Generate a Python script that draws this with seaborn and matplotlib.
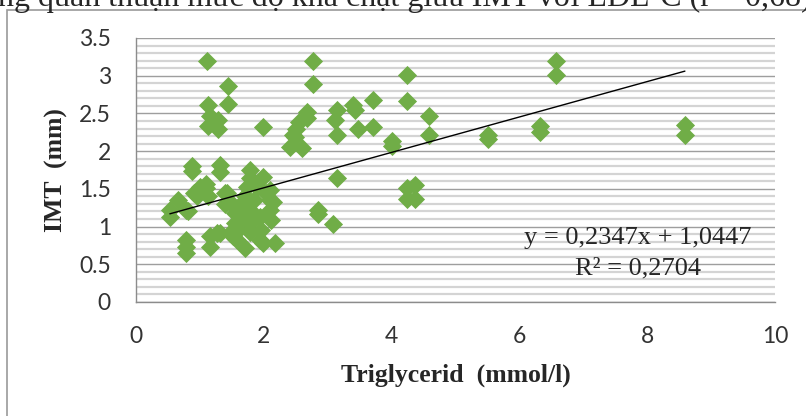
import matplotlib
matplotlib.use("Agg")
import matplotlib.pyplot as plt
import seaborn as sns
import pandas as pd
import numpy as np
from matplotlib.ticker import MultipleLocator
from matplotlib.patches import Rectangle

# ---- data ----
tg = [
    # upper-left group
    1.11, 1.44, 1.44, 1.12, 1.16, 1.29, 1.12, 1.29, 1.99,
    0.87, 0.87, 1.31, 1.31, 1.78, 1.78,
    # middle group
    2.77, 2.77, 2.67, 2.67, 2.51, 2.49, 2.41, 2.59, 2.45, 2.55,
    3.14, 3.11, 3.14, 3.40, 3.43, 3.48, 3.71, 3.71,
    4.24, 4.24, 4.00, 4.00, 4.59, 4.59,
    3.14, 2.85, 2.85, 3.08, 4.24, 4.37, 4.24, 4.37,
    # right group
    5.51, 5.51, 6.32, 6.32, 6.57, 6.57, 8.59, 8.59,
    # dense lower-left cluster
    0.53, 0.53, 0.66, 0.79, 0.82, 0.90, 1.00, 1.10, 1.13, 1.39, 1.39,
    1.55, 1.55, 1.71, 1.78, 1.78, 1.89, 2.04, 2.10, 2.10, 2.12, 1.94,
    0.79, 0.79, 0.79, 1.16, 1.16, 1.31, 1.57, 1.70, 1.47, 1.94, 2.18,
    1.78, 1.99, 0.95, 1.10, 1.42, 1.73, 2.10, 1.99, 2.14,
    1.65, 1.85, 1.95, 1.60, 1.70, 1.50, 1.26, 1.52,
]
imt = [
    3.20, 2.86, 2.63, 2.61, 2.46, 2.41, 2.33, 2.30, 2.32,
    1.80, 1.74, 1.82, 1.72, 1.75, 1.64,
    3.20, 2.89, 2.52, 2.44, 2.30, 2.19, 2.06, 2.04, 2.22, 2.38,
    2.55, 2.41, 2.21, 2.61, 2.55, 2.30, 2.68, 2.32,
    3.01, 2.66, 2.13, 2.07, 2.46, 2.21,
    1.65, 1.22, 1.17, 1.03, 1.51, 1.55, 1.36, 1.36,
    2.22, 2.16, 2.33, 2.26, 3.20, 3.01, 2.35, 2.21,
    1.22, 1.13, 1.35, 1.22, 1.20, 1.44, 1.53, 1.57, 1.40, 1.44, 1.30,
    1.18, 1.05, 1.40, 1.22, 1.05, 1.53, 1.44, 1.35, 1.22, 1.09, 1.13,
    0.82, 0.73, 0.65, 0.87, 0.73, 0.91, 0.84, 0.72, 0.91, 0.82, 0.78,
    0.93, 0.78, 1.40, 1.51, 1.44, 1.53, 1.49, 1.66, 1.33,
    1.30, 1.35, 0.95, 0.95, 1.10, 1.30, 0.91, 0.87,
]
slope = 0.2347
intercept = 1.0447
r2 = 0.2704
x_ticks = [0, 2, 4, 6, 8, 10]
y_ticks = [0, 0.5, 1, 1.5, 2, 2.5, 3, 3.5]
y_tick_labels = ["0", "0.5", "1", "1.5", "2", "2.5", "3", "3.5"]
title_text = "ng quan thuận mức độ khá chặt giữa IMT với LDL-C (r = 0,68)"
x_label = "Triglycerid  (mmol/l)"
y_label = "IMT  (mm)"

df = pd.DataFrame({"tg": tg, "imt": imt})

sns.set_theme(style="white")
plt.rcParams["font.family"] = ["Lato", "DejaVu Sans"]

W, H = 806, 416
ax_l, ax_r, ax_t, ax_b = 136, 775, 38, 302
fig = plt.figure(figsize=(W / 100, H / 100), dpi=100)
ax = fig.add_axes([ax_l / W, 1 - ax_b / H, (ax_r - ax_l) / W, (ax_b - ax_t) / H])

# outer chart frame (extends past right/bottom edge)
fig.patches.append(Rectangle((7 / W, -0.2), 1.2, 1 - 10 / H + 0.2,
                             transform=fig.transFigure, fill=False,
                             edgecolor="#9a9a9a", linewidth=1.2))

# grid
ax.yaxis.set_minor_locator(MultipleLocator(0.1))
ax.grid(which="minor", axis="y", color="#d4d4d4", linewidth=1.6, zorder=0)
ax.grid(which="major", axis="y", color="#9e9e9e", linewidth=1.0, zorder=0)
ax.grid(which="major", axis="x", visible=False)
ax.set_axisbelow(True)

sns.scatterplot(data=df, x="tg", y="imt", marker="D", s=95, color="#70AD47",
                linewidth=0, ax=ax, zorder=3, legend=False)

xs = np.array([min(tg), max(tg)])
ax.plot(xs, slope * xs + intercept, color="black", linewidth=1.0, zorder=4)

ax.set_xlim(0, 10)
ax.set_ylim(0, 3.5)
ax.set_xticks(x_ticks)
ax.set_xticklabels([str(t) for t in x_ticks])
ax.set_yticks(y_ticks)
ax.set_yticklabels(y_tick_labels)
ax.tick_params(axis="both", which="major", direction="out", length=6, width=1,
               color="#8c8c8c", labelsize=16.5, labelcolor="#333333")
ax.tick_params(axis="x", pad=11)
ax.tick_params(axis="y", pad=12)
ax.tick_params(which="minor", length=0)

for s in ["top", "right"]:
    ax.spines[s].set_visible(False)
for s in ["left", "bottom"]:
    ax.spines[s].set_color("#8c8c8c")
    ax.spines[s].set_linewidth(1)

serif = ["Liberation Serif", "DejaVu Serif"]
ax.set_xlabel(x_label, fontsize=18.5, fontweight="bold", family=serif)
ax.set_ylabel(y_label, fontsize=18.5, fontweight="bold", family=serif)
ax.xaxis.set_label_coords(0.5, (ax_b - 364) / (ax_b - ax_t))
ax.yaxis.set_label_coords((68 - ax_l) / (ax_r - ax_l), 0.5)

eq1 = "y = " + f"{slope:.4f}".replace(".", ",") + "x + " + f"{intercept:.4f}".replace(".", ",")
eq2 = "R² = " + f"{r2:.4f}".replace(".", ",")
fig.text(638 / W, 1 - 238 / H, eq1, ha="center", va="center", fontsize=19, family=serif)
fig.text(638 / W, 1 - 268 / H, eq2, ha="center", va="center", fontsize=19, family=serif)

fig.text(-2 / W, 1 - 6 / H, title_text, ha="left", va="baseline", fontsize=23,
         family=serif)

fig.savefig("out.png", dpi=100)
